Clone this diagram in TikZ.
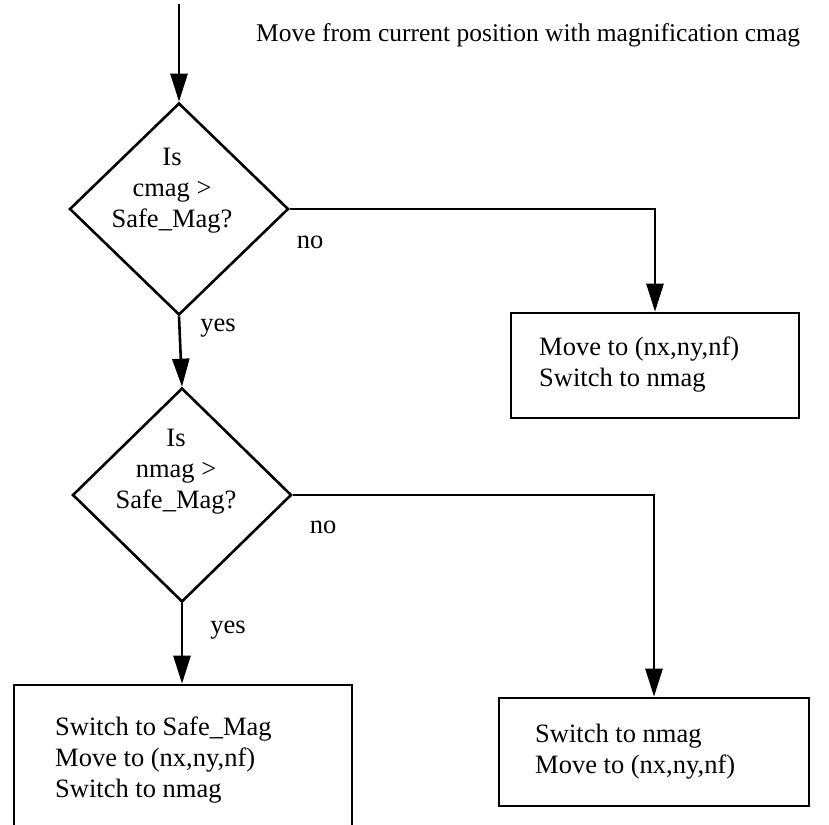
\documentclass[tikz,border=0pt]{standalone}
\usepackage{fontspec}
\setmainfont{Liberation Serif}
\usetikzlibrary{shapes.geometric,arrows.meta}
\begin{document}
\begin{tikzpicture}[x=1pt,y=-1pt,
  every node/.style={font=\fontsize{26.5}{31}\selectfont},
  arr/.style={line width=2.6pt,-{Triangle[length=28pt,width=17pt]}},
  dec/.style={draw,line width=2.6pt,shape=diamond,inner sep=0pt},
  boxx/.style={draw,line width=2.6pt,inner sep=0pt,rectangle},
  txt/.style={align=left,inner sep=0pt,anchor=west},
  ctxt/.style={align=center,inner sep=0pt},
  lbl/.style={inner sep=0pt}]
\useasboundingbox (0,0) rectangle (829,824);
\clip (0,0) rectangle (829,824);

\coordinate (start) at (179,4);

\node[dec,minimum width=219pt,minimum height=212pt] (D1) at (179,209) {};
\node[ctxt] (T1) at (172,191) {Is\\cmag >\\Safe\_Mag?};

\node[dec,minimum width=219pt,minimum height=214pt] (D2) at (182,495) {};
\node[ctxt] (T2) at (176,472) {Is\\nmag >\\Safe\_Mag?};

\node[boxx,minimum width=288pt,minimum height=105pt] (B1) at (655,365.5) {};
\node[txt] (B1t) at (539,365) {Move to (nx,ny,nf)\\Switch to nmag};

\node[boxx,minimum width=310pt,minimum height=108pt] (B2) at (654,752) {};
\node[txt] (B2t) at (535,752) {Switch to nmag\\Move to (nx,ny,nf)};

\node[boxx,minimum width=338pt,minimum height=170pt] (B3) at (183,770) {};
\node[txt] (B3t) at (55,760) {Switch to Safe\_Mag\\Move to (nx,ny,nf)\\Switch to nmag};

\node[txt,font=\fontsize{25.5}{31}\selectfont] (title) at (256,35) {Move from current position with magnification cmag};

\node[lbl] (no1) at (310,242) {no};
\node[lbl] (yes1) at (218,328) {yes};
\node[lbl] (no2) at (323,527) {no};
\node[lbl] (yes2) at (228,630) {yes};

\draw[arr] (start) -- (D1.north);
\draw[arr] (D1.east) -| (B1.north);
\draw[arr] (D1.south) -- (D2.north);
\draw[arr] (D2.east) -| (B2.north);
\draw[arr] (D2.south) -- (D2.south |- B3.north);
\end{tikzpicture}
\end{document}
